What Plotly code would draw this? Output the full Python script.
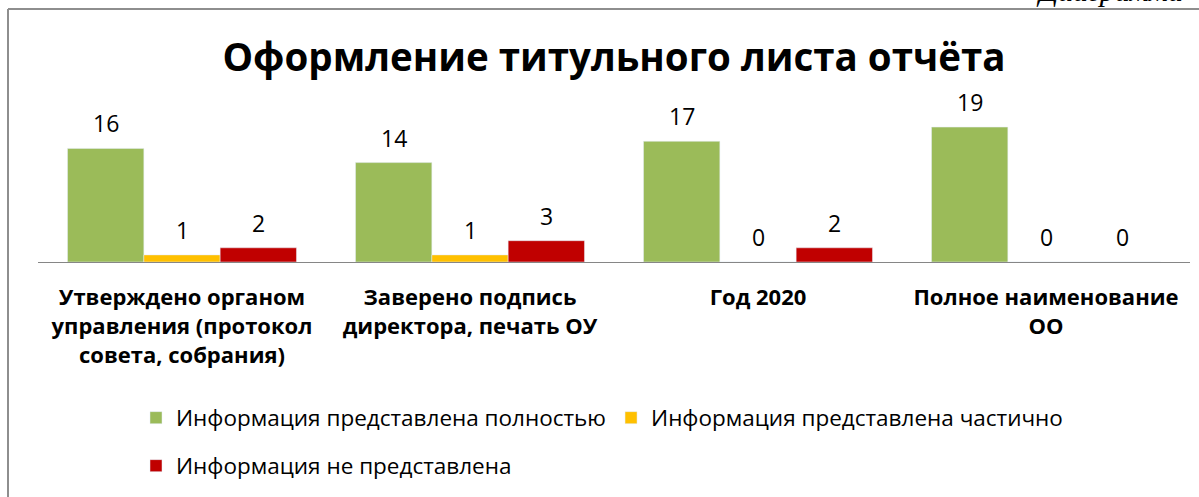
import plotly.graph_objects as go

categories = [
    "Утверждено органом<br>управления (протокол<br>совета, собрания)",
    "Заверено подпись<br>директора, печать ОУ",
    "Год 2020",
    "Полное наименование<br>ОО",
]
full_info = [16, 14, 17, 19]
partial_info = [1, 1, 0, 0]
no_info = [2, 3, 2, 0]

series_names = [
    "Информация представлена полностью",
    "Информация представлена частично",
    "Информация не представлена",
]
colors = ["#9BBB59", "#FFC000", "#C00000"]

W, H = 1199, 497
ML, MR, MT, MB = 38, 9, 90, 235
plot_h = H - MT - MB
plot_w = W - ML - MR
FONT = "Open Sans"
BARGAP = 0.205

all_series = [full_info, partial_info, no_info]
legend_ids = ["legend", "legend", "legend2"]

fig = go.Figure()
for name, vals, col, lg in zip(series_names, all_series, colors, legend_ids):
    fig.add_trace(go.Bar(x=categories, y=vals, name=name, marker_color=col,
                         legend=lg))

# value labels above each bar (category index + group offset)
slot = (1 - BARGAP) / len(all_series)
for k, vals in enumerate(all_series):
    for i, v in enumerate(vals):
        fig.add_annotation(x=i + (k - 1) * slot, y=v, xref="x", yref="y",
                           text=str(v), showarrow=False, yanchor="middle",
                           yshift=25,
                           font=dict(family=FONT, size=23, color="#000000"))


def px_x(p):
    return (p - ML) / plot_w


def px_y(p):
    return (H - MB - p) / plot_h


# frame of the embedded chart (cut off on the right and bottom)
fig.add_shape(type="line", xref="paper", yref="paper",
              x0=px_x(8), x1=px_x(1205), y0=px_y(9), y1=px_y(9),
              line=dict(color="#8E8E8E", width=2))
fig.add_shape(type="line", xref="paper", yref="paper",
              x0=px_x(8), x1=px_x(8), y0=px_y(9), y1=px_y(505),
              line=dict(color="#8E8E8E", width=2))

# caption from the page above, mostly cut off
fig.add_annotation(text="<i>Диаграмма</i>", xref="paper", yref="paper",
                   x=px_x(1185), y=px_y(9), xanchor="right", yanchor="bottom",
                   showarrow=False,
                   font=dict(family="Liberation Serif", size=30, color="#000000"))

legend_font = dict(family=FONT, size=22.5, color="#000000")
fig.update_layout(
    width=W, height=H,
    margin=dict(l=ML, r=MR, t=MT, b=MB),
    paper_bgcolor="white", plot_bgcolor="white",
    barmode="group", bargap=BARGAP, bargroupgap=0,
    font=dict(family=FONT, color="#000000"),
    title=dict(text="Оформление титульного листа отчёта",
               x=0.5, xref="paper", xanchor="center",
               y=1 - 58 / H, yanchor="middle",
               font=dict(family=FONT, size=38.5, weight="bold", color="#000000")),
    xaxis=dict(showline=True, linecolor="#868686", linewidth=1,
               ticks="", ticklabelstandoff=16,
               tickfont=dict(family=FONT, size=22, weight="bold", color="#000000")),
    yaxis=dict(visible=False, range=[0, plot_h / 7.1]),
    showlegend=True,
    legend=dict(orientation="h", x=px_x(136), y=px_y(418),
                xanchor="left", yanchor="middle",
                font=legend_font, bgcolor="rgba(0,0,0,0)"),
    legend2=dict(orientation="h", x=px_x(136), y=px_y(466),
                 xanchor="left", yanchor="middle",
                 font=legend_font, bgcolor="rgba(0,0,0,0)"),
)

fig.write_html("out.html", config={"displayModeBar": False},
               post_script="document.body.style.margin='0px';")
